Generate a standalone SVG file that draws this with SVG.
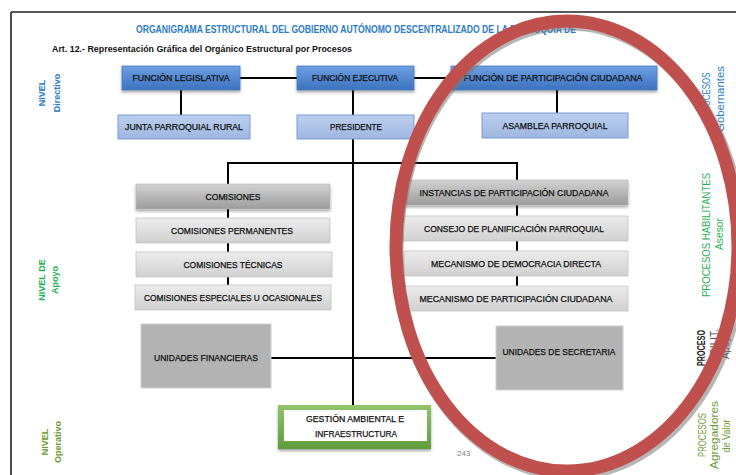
<svg xmlns="http://www.w3.org/2000/svg" width="736" height="475" viewBox="0 0 736 475">
<defs>
<linearGradient id="gBlue" x1="0" y1="0" x2="0" y2="1"><stop offset="0" stop-color="#6d9fe0"/><stop offset="1" stop-color="#3c72c0"/></linearGradient>
<linearGradient id="gLBlue" x1="0" y1="0" x2="0" y2="1"><stop offset="0" stop-color="#bccfee"/><stop offset="1" stop-color="#9db6e1"/></linearGradient>
<linearGradient id="gDGrey" x1="0" y1="0" x2="0" y2="1"><stop offset="0" stop-color="#d2d2d2"/><stop offset="1" stop-color="#9c9c9c"/></linearGradient>
<linearGradient id="gLGrey" x1="0" y1="0" x2="0" y2="1"><stop offset="0" stop-color="#ececec"/><stop offset="1" stop-color="#d0d0d0"/></linearGradient>
<linearGradient id="gGreen" x1="0" y1="0" x2="0" y2="1"><stop offset="0" stop-color="#92c46a"/><stop offset="1" stop-color="#5f9c3d"/></linearGradient>
<filter id="sh" x="-10%" y="-20%" width="130%" height="170%"><feDropShadow dx="0" dy="2" stdDeviation="1.5" flood-color="#000" flood-opacity="0.35"/></filter>
<style>
text{font-family:"Liberation Sans",Arial,sans-serif}
.bt{font-size:8.8px;fill:#111;stroke:#111;stroke-width:0.25;text-anchor:middle}
.fb{fill:url(#gBlue);stroke:#4a7bc0;stroke-width:0.8}
.lb{fill:url(#gLBlue);stroke:#7c9bd2;stroke-width:1}
.dg{fill:url(#gDGrey);stroke:#b5b5b5;stroke-width:0.6}
.lg{fill:url(#gLGrey);stroke:#c4c4c4;stroke-width:0.8}
.un{fill:#b3b3b3;stroke:#d0d0d0;stroke-width:1}
.cn{stroke:#000;stroke-width:2;fill:none}
.lbl{font-size:9px;text-anchor:middle}
.rl{font-size:10px;text-anchor:middle}
</style>
</defs>
<rect width="736" height="475" fill="#fff"/>
<g id="frame"><path d="M11,12 H736 M11,12 V475" stroke="#222" stroke-width="1.6" fill="none"/></g>
<g id="header">
<text x="136" y="33" font-size="10.5" font-weight="bold" fill="#2a7cc7" textLength="440" lengthAdjust="spacingAndGlyphs">ORGANIGRAMA ESTRUCTURAL DEL GOBIERNO AUTÓNOMO DESCENTRALIZADO DE LA PARROQUIA DE</text>
<text x="52" y="52" font-size="8.8" font-weight="bold" fill="#111" textLength="300" lengthAdjust="spacingAndGlyphs">Art. 12.- Representación Gráfica del Orgánico Estructural por Procesos</text>
</g>
<g id="levels" font-weight="bold">
<text class="lbl" transform="translate(45,93) rotate(-90)" fill="#2a7cc7">NIVEL</text>
<text class="lbl" transform="translate(60,93) rotate(-90)" fill="#2a7cc7">Directivo</text>
<text class="lbl" transform="translate(45,280) rotate(-90)" fill="#1fb155">NIVEL DE</text>
<text class="lbl" transform="translate(58,280) rotate(-90)" fill="#1fb155">Apoyo</text>
<text class="lbl" transform="translate(48,442) rotate(-90)" fill="#6d9a34">NIVEL</text>
<text class="lbl" transform="translate(61,442) rotate(-90)" fill="#6d9a34">Operativo</text>
</g>
<g id="processes">
<text class="rl" transform="translate(710,95) rotate(-90)" fill="#2a7cc7" textLength="45" lengthAdjust="spacingAndGlyphs">PROCESOS</text>
<text class="rl" transform="translate(724,99) rotate(-90)" fill="#2a7cc7" textLength="66" lengthAdjust="spacingAndGlyphs">Gobernantes</text>
<text class="rl" transform="translate(710,235) rotate(-90)" fill="#1fb155" textLength="124" lengthAdjust="spacingAndGlyphs">PROCESOS HABILITANTES</text>
<text class="rl" transform="translate(723,234) rotate(-90)" fill="#1fb155" textLength="32" lengthAdjust="spacingAndGlyphs">Asesor</text>
<text class="rl" transform="translate(705,348) rotate(-90)" fill="#222" font-weight="bold" textLength="36" lengthAdjust="spacingAndGlyphs">PROCESO</text>
<text class="rl" transform="translate(718,349) rotate(-90)" fill="#444" textLength="40" lengthAdjust="spacingAndGlyphs">HABILIT.</text>
<text class="rl" transform="translate(729,345) rotate(-90)" fill="#444" textLength="28" lengthAdjust="spacingAndGlyphs">Apoyo</text>
<text class="rl" transform="translate(706,435) rotate(-90)" fill="#6d9a34" textLength="44" lengthAdjust="spacingAndGlyphs">PROCESOS</text>
<text class="rl" transform="translate(718,435) rotate(-90)" fill="#6d9a34" textLength="68" lengthAdjust="spacingAndGlyphs">Agregadores</text>
<text class="rl" transform="translate(730,436) rotate(-90)" fill="#6d9a34" textLength="33" lengthAdjust="spacingAndGlyphs">de Valor</text>
</g>
<g id="connectors">
<path class="cn" d="M240,78 H297 M414,78 H451 M181,90 V115 M353,90 V115 M557,90 V113 M353,139 V405 M228,184 V163 H517 V180 M228,209 V218 M228,243 V252 M228,277 V285 M517,205 V216 M517,241 V251 M517,276 V286 M271,358 H496"/>
</g>
<g id="funcion-legislativa"><rect class="fb" x="122" y="66" width="118" height="24" filter="url(#sh)"/><text class="bt" x="181" y="81" textLength="97" lengthAdjust="spacingAndGlyphs">FUNCIÓN LEGISLATIVA</text></g>
<g id="funcion-ejecutiva"><rect class="fb" x="297" y="66" width="117" height="24" filter="url(#sh)"/><text class="bt" x="355" y="81" textLength="86" lengthAdjust="spacingAndGlyphs">FUNCIÓN EJECUTIVA</text></g>
<g id="funcion-participacion"><rect class="fb" x="451" y="66" width="206" height="24" filter="url(#sh)"/><text class="bt" x="553" y="81" textLength="179" lengthAdjust="spacingAndGlyphs">FUNCIÓN DE PARTICIPACIÓN CIUDADANA</text></g>
<g id="junta"><rect class="lb" x="118" y="115" width="132" height="24"/><text class="bt" x="184" y="130" textLength="118" lengthAdjust="spacingAndGlyphs">JUNTA PARROQUIAL RURAL</text></g>
<g id="presidente"><rect class="lb" x="297" y="115" width="117" height="24"/><text class="bt" x="356" y="130" textLength="52" lengthAdjust="spacingAndGlyphs">PRESIDENTE</text></g>
<g id="asamblea"><rect class="lb" x="482" y="113" width="146" height="25"/><text class="bt" x="555" y="129" textLength="105" lengthAdjust="spacingAndGlyphs">ASAMBLEA PARROQUIAL</text></g>
<g id="comisiones"><rect class="dg" x="136" y="184" width="194" height="25" filter="url(#sh)"/><text class="bt" x="233" y="200" textLength="55" lengthAdjust="spacingAndGlyphs">COMISIONES</text></g>
<g id="comisiones-permanentes"><rect class="lg" x="136" y="218" width="194" height="25"/><text class="bt" x="232" y="234" textLength="122" lengthAdjust="spacingAndGlyphs">COMISIONES PERMANENTES</text></g>
<g id="comisiones-tecnicas"><rect class="lg" x="136" y="252" width="196" height="25"/><text class="bt" x="233" y="268" textLength="99" lengthAdjust="spacingAndGlyphs">COMISIONES TÉCNICAS</text></g>
<g id="comisiones-especiales"><rect class="lg" x="135" y="285" width="196" height="25"/><text class="bt" x="233" y="301" textLength="178" lengthAdjust="spacingAndGlyphs">COMISIONES ESPECIALES U OCASIONALES</text></g>
<g id="instancias"><rect class="dg" x="402" y="180" width="226" height="25" filter="url(#sh)"/><text class="bt" x="514" y="196" textLength="189" lengthAdjust="spacingAndGlyphs">INSTANCIAS DE PARTICIPACIÓN CIUDADANA</text></g>
<g id="consejo"><rect class="lg" x="402" y="216" width="226" height="25"/><text class="bt" x="514" y="232" textLength="180" lengthAdjust="spacingAndGlyphs">CONSEJO DE PLANIFICACIÓN PARROQUIAL</text></g>
<g id="democracia"><rect class="lg" x="404" y="251" width="224" height="25"/><text class="bt" x="516" y="267" textLength="170" lengthAdjust="spacingAndGlyphs">MECANISMO DE DEMOCRACIA DIRECTA</text></g>
<g id="mecanismo-participacion"><rect class="lg" x="402" y="286" width="226" height="25"/><text class="bt" x="516" y="302" textLength="193" lengthAdjust="spacingAndGlyphs">MECANISMO DE PARTICIPACIÓN CIUDADANA</text></g>
<g id="unidades-financieras"><rect class="un" x="141" y="324" width="130" height="64"/><text class="bt" x="206" y="361" textLength="104" lengthAdjust="spacingAndGlyphs">UNIDADES FINANCIERAS</text></g>
<g id="unidades-secretaria"><rect class="un" x="496" y="326" width="127" height="64"/><text class="bt" x="559" y="355" textLength="113" lengthAdjust="spacingAndGlyphs">UNIDADES DE SECRETARIA</text></g>
<g id="gestion"><rect x="278" y="405" width="153" height="44" fill="url(#gGreen)" filter="url(#sh)"/><rect x="284" y="410" width="143" height="31" fill="#fff"/><text class="bt" x="355" y="422" textLength="98" lengthAdjust="spacingAndGlyphs">GESTIÓN AMBIENTAL E</text><text class="bt" x="356" y="437" textLength="82" lengthAdjust="spacingAndGlyphs">INFRAESTRUCTURA</text></g>
<g id="page"><text x="457" y="456" font-size="8" fill="#808080">243</text></g>
<g id="highlight">
<ellipse cx="569" cy="249" rx="172" ry="225" fill="none" stroke="#7a7a7a" stroke-opacity="0.55" stroke-width="13"/>
<ellipse cx="567" cy="246" rx="171" ry="225" fill="none" stroke="#c0504d" stroke-width="13"/>
</g>
</svg>
